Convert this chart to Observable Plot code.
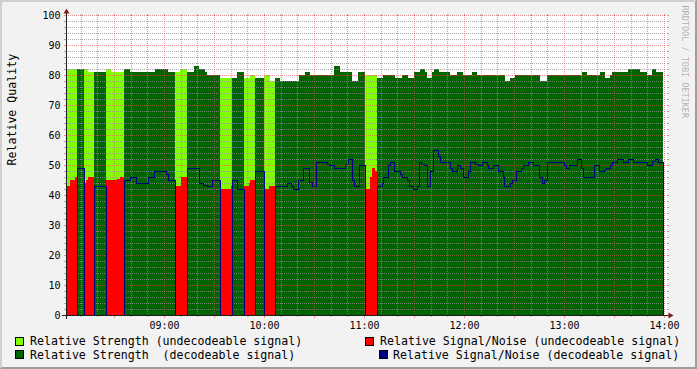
<!DOCTYPE html>
<html>
<head>
<meta charset="utf-8">
<script src="https://cdn.jsdelivr.net/npm/d3@7"></script>
<script src="https://cdn.jsdelivr.net/npm/@observablehq/plot@0.6"></script>
<style>
html,body{margin:0;padding:0;background:#F2F2F2;}
#graph{position:relative;width:697px;height:369px;box-sizing:border-box;background:#F2F2F2;
  border-style:solid;border-width:2px;border-color:#CFCFCF #9E9E9E #9E9E9E #CFCFCF;overflow:hidden;
  font-family:"DejaVu Sans Mono",monospace;}
#chart{position:absolute;left:-2px;top:-2px;}
.lg{position:absolute;font-size:11.6px;line-height:normal;white-space:pre;color:#000;}
.sw{position:absolute;width:7px;height:7px;border:1px solid #000;}
</style>
</head>
<body>
<div id="graph"><div id="chart"></div></div>
<script>
// ---------- data (minutes after 08:00) ----------
const yTitle = "Relative Quality";
const watermark = "RRDTOOL / TOBI OETIKER";
const xTickLabels = ["09:00", "10:00", "11:00", "12:00", "13:00", "14:00"];
const yTicks = [0, 10, 20, 30, 40, 50, 60, 70, 80, 90, 100];
const viewStartMin = 1.2;
const viewEndMin = 361.2;
const dataEndMin = 359.4;

// relative strength (step breakpoints)
const strengthMin = [1.5, 7.5, 11.7, 14.1, 17.7, 24.9, 27.9, 35.7, 39.3, 54.3,
  62.1, 66.3, 69.3, 73.5, 77.7, 80.7, 84.3, 85.5, 93.3, 100.5,
  103.5, 107.7, 111.3, 114.3, 119.7, 123.3, 126.3, 129.3, 140.7, 144.3,
  147.3, 161.7, 165.3, 172.5, 176.4, 180.3, 187.5, 191.1, 198.3, 202.5,
  206.1, 209.7, 213.3, 216.3, 217.5, 220.5, 221.7, 224.7, 231.3, 235.5,
  239.1, 244.5, 247.5, 264.3, 267.3, 270.3, 285.3, 289.5, 310.5, 313.5,
  321.3, 324.3, 327.3, 328.5, 338.1, 345.3, 349.5, 352.5, 354.9];
const strengthVal = [82, 82, 82, 81, 81, 82, 81, 82, 81, 82,
  81, 81, 82, 81, 83, 82, 81, 80, 79, 79,
  81, 79, 80, 79, 80, 78, 79, 78, 80, 81,
  80, 83, 81, 78, 81, 80, 79, 80, 79, 80,
  79, 81, 82, 81, 79, 81, 82, 81, 80, 81,
  80, 81, 80, 78, 79, 80, 78, 80, 81, 80,
  81, 79, 80, 81, 82, 81, 80, 82, 81];

// undecodeable periods
const undecStartMin = [1.5, 11.7, 24.9, 66.3, 93.3, 107.7, 119.7, 180.3];
const undecEndMin   = [7.5, 17.7, 35.7, 73.5, 100.5, 114.3, 126.3, 187.5];

// relative signal/noise, undecodeable signal
const snrUndecMin = [1.5, 3.3, 6.3, 11.7, 12.9, 14.1, 24.9, 31.5, 33.3, 66.3, 69.9,
  93.3, 99.9, 107.7, 110.7, 111.3, 119.7, 122.7, 180.3, 183.3, 184.5, 186.3];
const snrUndecVal = [43, 45, 46, 44, 45, 46, 45, 45.5, 46, 43, 46,
  42, 43, 43, 44, 45, 42, 43, 42, 46, 49, 48];

// relative signal/noise, decodeable signal
const snrDecMin = [1.5, 7.5, 11.7, 17.7, 24.9, 35.7, 39.3, 42.9, 50.1, 53.7,
  60.9, 62.1, 66.3, 73.5, 80.7, 83.1, 85.5, 88.5, 93.3, 100.5,
  103.5, 107.7, 114.3, 119.7, 126.3, 133.5, 135.9, 137.1, 140.1, 143.1,
  146.7, 148.5, 150.9, 157.5, 158.7, 161.7, 168.3, 170.1, 172.5, 173.7,
  176.7, 180.3, 187.5, 190.5, 191.1, 194.1, 195.3, 197.7, 201.3, 202.5,
  205.5, 206.7, 209.1, 211.5, 212.7, 213.9, 215.7, 217.5, 219.3, 221.1,
  224.1, 225.3, 231.3, 232.5, 235.5, 237.3, 239.1, 242.1, 243.3, 246.3,
  248.1, 250.5, 253.5, 254.1, 257.1, 260.1, 263.1, 263.7, 267.3, 268.5,
  270.9, 273.9, 275.1, 278.1, 281.1, 284.7, 286.5, 287.7, 289.5, 299.7,
  300.9, 302.7, 307.5, 309.9, 311.1, 317.7, 320.7, 323.7, 324.9, 327.3,
  328.5, 331.5, 335.1, 338.1, 341.1, 349.5, 352.5, 354.3, 356.1, 359.4];
const snrDecVal = [0, 49, 0, 43, 0, 45, 46, 44, 46, 48,
  47, 45, 0, 49, 44, 43.5, 43, 45, 0, 45,
  42, 0, 48, 0, 43, 44, 43, 42, 45, 49,
  44.5, 43, 51, 50.5, 50, 49, 50.5, 52, 45, 43,
  50, 0, 43, 44, 46, 50, 51, 48, 47, 46,
  45, 43, 42, 43, 51, 50.5, 50, 43, 48, 55,
  53, 51, 49, 48, 50, 49, 46, 48, 51, 50.5,
  50, 51, 50, 49, 50, 48, 46, 43, 44, 45,
  48, 49, 50, 51, 50, 46, 44, 45, 51, 50,
  49, 50, 52, 49, 46, 50, 48, 48.5, 49, 50,
  51, 52, 51, 52, 51, 50, 51.5, 52, 51, 0];

const legendLabels = [
  "Relative Strength (undecodeable signal)",
  "Relative Strength  (decodeable signal)",
  "Relative Signal/Noise (undecodeable signal)",
  "Relative Signal/Noise (decodeable signal)"
];

// ---------- styles ----------
const LIGHT_GREEN = "#7FFF00", DARK_GREEN = "#006400", RED = "#FF0000", BLUE = "#000080";
const GRID = "rgba(143,143,143,0.75)", MGRID = "rgba(222,79,79,0.6)", AXIS = "#1F1F1F", ARROW = "#801F1F";
const legendColors = [LIGHT_GREEN, DARK_GREEN, RED, BLUE];
// legend layout (page px): swatch x,y ; text x, text top
const legendLayout = [
  {sx: 15, sy: 337, tx: 30, ty: 334.2},
  {sx: 15, sy: 350, tx: 30, ty: 347.5},
  {sx: 365, sy: 337, tx: 380, ty: 334.2},
  {sx: 379, sy: 350, tx: 393, ty: 347.5}
];

// ---------- derived tables ----------
const base = Date.UTC(2013, 0, 1, 8, 0, 0);
const T = m => new Date(base + m * 60000);
const parseLabel = s => { const [h, mm] = s.split(":").map(Number); return T(h * 60 + mm - 480); };
const periodOf = m => undecStartMin.findIndex((s, k) => m >= s && m < undecEndMin[k]);

const strengthSegs = strengthMin.map((m, i) => ({
  x1: T(m), x2: T(i + 1 < strengthMin.length ? strengthMin[i + 1] : dataEndMin),
  v: strengthVal[i], undec: periodOf(m) >= 0
}));
const redSegs = snrUndecMin.map((m, i) => {
  const k = periodOf(m);
  const next = i + 1 < snrUndecMin.length ? snrUndecMin[i + 1] : Infinity;
  return {x1: T(m), x2: T(Math.min(next, undecEndMin[k])), v: snrUndecVal[i]};
});
const blue = snrDecMin.map((m, i) => ({t: T(m), v: snrDecVal[i]}));

const start = T(viewStartMin), end = T(viewEndMin);
const minorY = d3.range(2, 100, 2).filter(v => v % 10);
const majorY = yTicks.filter(v => v > 0);
const minorX = d3.utcMinute.every(10).range(start, end).filter(d => d.getUTCMinutes() % 30);
const majorX = d3.utcMinute.every(30).range(start, end);
const hourTicks = xTickLabels.map(parseLabel);
const blank = () => "";

const dash = {strokeDasharray: "1,1", shapeRendering: "crispEdges"};

const chart = Plot.plot({
  width: 697, height: 331,
  marginLeft: 66, marginRight: 31, marginTop: 15, marginBottom: 16,
  style: "background:transparent;font-family:'DejaVu Sans Mono',monospace;font-size:10px;overflow:visible;color:#000;max-width:none;display:block;",
  x: {type: "utc", domain: [start, end]},
  y: {domain: [0, 100]},
  marks: [
    Plot.frame({fill: "#FFFFFF", stroke: "none", shapeRendering: "crispEdges"}),
    Plot.rect(strengthSegs.filter(d => !d.undec), {x1: "x1", x2: "x2", y1: 0, y2: "v", fill: DARK_GREEN, shapeRendering: "crispEdges"}),
    Plot.rect(strengthSegs.filter(d => d.undec), {x1: "x1", x2: "x2", y1: 0, y2: "v", fill: LIGHT_GREEN, shapeRendering: "crispEdges"}),
    Plot.ruleY(minorY, {stroke: GRID, ...dash}),
    Plot.ruleX(minorX, {stroke: GRID, ...dash}),
    Plot.ruleY(majorY, {stroke: MGRID, ...dash}),
    Plot.ruleX(majorX, {stroke: MGRID, ...dash}),
    Plot.rect(redSegs, {x1: "x1", x2: "x2", y1: 0, y2: "v", fill: RED, shapeRendering: "crispEdges"}),
    Plot.line(blue, {x: "t", y: "v", curve: "step-after", stroke: BLUE, strokeWidth: 1,
      strokeLinejoin: "miter", strokeLinecap: "butt", shapeRendering: "crispEdges"}),
    // ticks outside the canvas
    Plot.axisY({ticks: minorY, anchor: "left", tickSize: 2, tickFormat: blank, stroke: GRID, label: null}),
    Plot.axisY({ticks: minorY, anchor: "right", tickSize: 2, tickFormat: blank, stroke: GRID, label: null}),
    Plot.axisY({ticks: yTicks, anchor: "right", tickSize: 2, tickFormat: blank, stroke: MGRID, label: null}),
    Plot.axisY({ticks: yTicks, anchor: "left", tickSize: 2, tickPadding: 4, stroke: MGRID, fill: "#000", fontSize: 10, label: null}),
    Plot.axisX({ticks: minorX, anchor: "bottom", tickSize: 2, tickFormat: blank, stroke: GRID, label: null}),
    Plot.axisX({ticks: minorX, anchor: "top", tickSize: 2, tickFormat: blank, stroke: GRID, label: null}),
    Plot.axisX({ticks: majorX, anchor: "bottom", tickSize: 3, tickFormat: blank, stroke: MGRID, label: null}),
    Plot.axisX({ticks: majorX, anchor: "top", tickSize: 2, tickFormat: blank, stroke: MGRID, label: null}),
    Plot.axisX({ticks: hourTicks, anchor: "bottom", tickSize: 0, tickPadding: 6, tickFormat: d3.utcFormat("%H:%M"), fill: "#000", fontSize: 10, label: null}),
    // axes
    Plot.ruleY([0], {stroke: AXIS, insetLeft: -4, insetRight: -4}),
    Plot.ruleX([start], {stroke: AXIS, insetTop: -4, insetBottom: -4}),
    // texts
    Plot.text([yTitle], {frameAnchor: "left", text: d => d, rotate: -90, dx: -54.7, fontSize: 11.6, fill: "#000"}),
    Plot.text([watermark], {frameAnchor: "top-right", text: d => d, rotate: 90, textAnchor: "start", dx: 21.7, dy: -10, fontSize: 8.5, fill: "#000", fillOpacity: 0.3})
  ]
});

// axis arrows placed from the scales
const sx = chart.scale("x"), sy = chart.scale("y");
const X0 = sx.apply(start) + 0.5, X1 = sx.apply(end) + 0.5, Y0 = sy.apply(0) + 0.5, Yn = sy.apply(100) + 0.5;
const svg = d3.select(chart);
svg.append("path").attr("fill", ARROW)
  .attr("d", `M${X1 + 2},${Y0 - 3}L${X1 + 2},${Y0 + 3}L${X1 + 7},${Y0}Z`);
svg.append("path").attr("fill", ARROW)
  .attr("d", `M${X0 - 3},${Yn - 2}L${X0 + 3},${Yn - 2}L${X0},${Yn - 7}Z`);

document.getElementById("chart").appendChild(chart);

// legend
const graph = d3.select("#graph");
legendLabels.forEach((label, i) => {
  const L = legendLayout[i];
  graph.append("div").attr("class", "sw")
    .style("left", (L.sx - 2) + "px").style("top", (L.sy - 2) + "px")
    .style("background", legendColors[i]);
  graph.append("div").attr("class", "lg")
    .style("left", (L.tx - 2) + "px").style("top", (L.ty - 2) + "px")
    .text(label);
});
</script>
</body>
</html>
